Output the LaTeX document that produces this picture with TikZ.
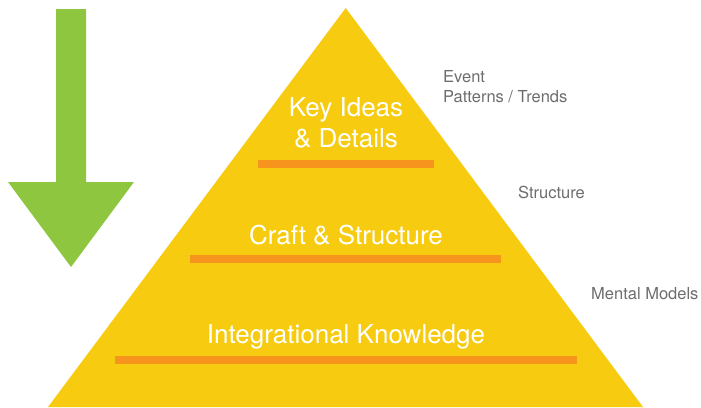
\documentclass[tikz,border=0pt]{standalone}
\usepackage{fontspec}
\setmainfont{TeX Gyre Heros}
\definecolor{pyryellow}{HTML}{F7CB0F}
\definecolor{barorange}{HTML}{F7941D}
\definecolor{arrowgreen}{HTML}{8FC640}
\definecolor{notegray}{HTML}{6D6D6D}
\begin{document}
\begin{tikzpicture}[x=1pt,y=-1pt,
    level/.style={text=white,font=\fontsize{26}{31}\selectfont,anchor=base,align=center,inner sep=0pt},
    note/.style={text=notegray,font=\fontsize{16.5}{19.5}\selectfont,anchor=base west,align=left,inner sep=0pt}]
  \useasboundingbox (0,0) rectangle (701,407);
  \pgfmathsetmacro\bart{8}   % thickness of the orange bars

% pyramid
  \fill[pyryellow] (345.7,8) -- (643,407) -- (48,407) -- cycle;

% downward arrow at left
  \fill[arrowgreen] (56,9) -- (86,9) -- (86,182) -- (134,182) -- (71,267)
    -- (8,182) -- (56,182) -- cycle;

% orange bars
  \fill[barorange] (258,160) rectangle (434,160+\bart);
  \fill[barorange] (190,255) rectangle (501,255+\bart);
  \fill[barorange] (115,356) rectangle (577,356+\bart);

% level labels (base = last line)
  \node[level] (keyideas) at (346,147) {Key Ideas\\\& Details};
  \node[level] (craft) at (346,244) {Craft \& Structure};
  \node[level] (integ) at (346,343) {Integrational Knowledge};

% notes at right
  \node[note] (event) at (443,102) {Event\\Patterns / Trends};
  \node[note] (struct) at (518,198) {Structure};
  \node[note] (mental) at (591,299) {Mental Models};

\end{tikzpicture}
\end{document}
